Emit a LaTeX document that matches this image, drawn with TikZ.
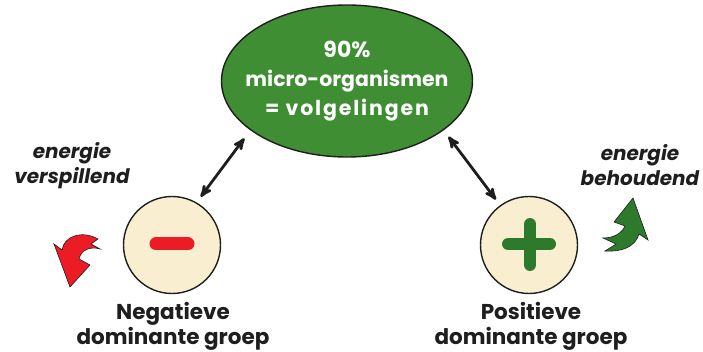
\documentclass[tikz,border=0pt]{standalone}
\usepackage{fontspec}
\setmainfont{Poppins}
\usetikzlibrary{arrows,shapes.geometric}

\definecolor{orggreen}{RGB}{64,142,52}
\definecolor{plusgreen}{RGB}{46,122,44}
\definecolor{minusred}{RGB}{236,28,36}
\definecolor{cream}{RGB}{249,239,208}
\definecolor{inkblack}{RGB}{30,30,30}

\begin{document}
\begin{tikzpicture}[x=1pt,y=-1pt,>=stealth',
                    org node/.style={ellipse,draw=inkblack,line width=1.4pt,fill=orggreen,
                      minimum width=251pt,minimum height=152pt,inner sep=0pt},
                    org text/.style={text=white,align=center,
                      font=\bfseries\fontsize{20.5}{29}\selectfont},
                    group node/.style={circle,draw=inkblack,line width=1.4pt,fill=cream,
                      minimum size=97pt,inner sep=0pt},
                    group text/.style={align=center,text=inkblack,
                      font=\bfseries\fontsize{21.5}{25}\selectfont},
                    energy text/.style={align=center,text=inkblack,
                      font=\bfseries\itshape\fontsize{20}{25}\selectfont},
                    link/.style={<->,draw=inkblack,line width=2.8pt}]
\useasboundingbox (0,0) rectangle (703,352);

\node[org node] (org) at (347,81) {};
\node[org text] (orgtext) at (org.center)
  {{\fontsize{22}{29}\selectfont 90\%}\\micro-organismen\\{\addfontfeatures{LetterSpace=9}= volgelingen}};
\node[group node] (neg) at (172,245) {};
\node[group node] (pos) at (529,245) {};

\node[group text] (neglabel) at (173,326) {Negatieve\\dominante groep};
\node[group text] (poslabel) at (531,326) {Positieve\\dominante groep};
\node[energy text] (waste) at (72,166) {energie\\verspillend};
\node[energy text] (keep) at (640,165) {energie\\behoudend};

% minus and plus signs
\draw[minusred,line width=13pt,line cap=round] (neg.center) ++(-16,-1) -- ++(32,0);
\draw[plusgreen,line width=12pt,line cap=round] (pos.center) ++(-21,-1) -- ++(42,0);
\draw[plusgreen,line width=12pt,line cap=round] (pos.center) ++(1,-21) -- ++(0,41);

% double arrows
\draw[link,shorten <=10pt,shorten >=7pt] (org.207) -- (neg.60);
\draw[link,shorten <=8pt,shorten >=7pt] (org.333) -- (pos.126);

% curved arrows
\draw[inkblack,line width=0.6pt,fill=minusred]
  (70,287) -- (54,244) -- (62,250) .. controls (64,236) and (82,230) .. (98,239)
  -- (91,244) -- (100,249) .. controls (90,246) and (81,250) .. (79,259)
  -- (90,265) -- cycle;
\draw[inkblack,line width=0.6pt,fill=plusgreen]
  (633,198) -- (648,240) -- (639,234) .. controls (635,248) and (620,252) .. (605,251)
  -- (616,244) -- (603,238) .. controls (614,238) and (622,233) .. (625,226)
  -- (614,222) -- cycle;
\end{tikzpicture}
\end{document}
